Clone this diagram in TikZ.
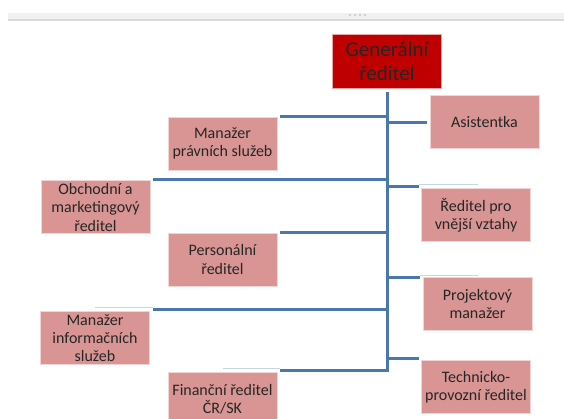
\documentclass[tikz,border=0pt]{standalone}
\usepackage{fontspec}
\setmainfont{Carlito}
\definecolor{boxred}{HTML}{D99594}
\definecolor{topred}{HTML}{C00000}
\definecolor{branchblue}{HTML}{4A78AD}
\definecolor{ghostblue}{HTML}{C6D6EA}
\begin{document}
\begin{tikzpicture}[x=1pt, y=-1pt,
	box/.style = {draw=boxred!40!white, line width=0.8pt, fill=boxred, minimum width=109pt, minimum height=53pt, align=center, inner sep=2pt, font=\fontsize{16}{18.3}\selectfont, text=black!85},
	boss/.style = {draw=topred!35!white, line width=0.8pt, fill=topred, minimum width=109pt, minimum height=54pt, align=center, font=\fontsize{21}{24}\selectfont, text=black!85},
	line/.style = {draw=branchblue, line width=3pt},
	ghost/.style = {draw=ghostblue, line width=1.5pt}]
		\useasboundingbox (0,0) rectangle (564,418);
		% Lista
		\fill[black!6] (8,13) rectangle (564,19);
		\fill[black!15] (8,19) rectangle (564,20.5);
		\foreach \i in {0,...,3}
			\fill[black!30] (350+5*\i,15) circle (0.9pt);
		% Boxy
		\node[boss] (gen) at (387,61) {Generální\\ředitel};
		\node[box] (asist) at (484.5,122) {Asistentka};
		\node[box] (pravni) at (222.5,143.5) {Manažer\\právních služeb};
		\node[box] (obchod) at (95.5,207.3) {Obchodní a\\marketingový\\ředitel};
		\node[box] (vnejsi) at (476,215) {Ředitel pro\\vnější vztahy};
		\node[box] (person) at (222.5,259.5) {Personální\\ředitel};
		\node[box] (projekt) at (477.5,304) {Projektový\\manažer};
		\node[box] (inform) at (95,338) {Manažer\\informačních\\služeb};
		\node[box] (techn) at (476,387) {Technicko-\\provozní ředitel};
		\node[box] (financ) at (222.5,399) {Finanční ředitel\\ČR/SK};
		% Body na kmeni
		\coordinate (bot) at (387,372);
		\coordinate (b1) at (387,116);	% pravni
		\coordinate (b2) at (387,122);	% asist
		\coordinate (b3) at (387,179);	% obchod
		\coordinate (b4) at (387,186);	% vnejsi
		\coordinate (b5) at (387,232);	% person
		\coordinate (b6) at (387,277);	% projekt
		\coordinate (b7) at (387,309);	% inform
		\coordinate (b8) at (387,358);	% techn
		\coordinate (b9) at (387,370);	% financ
		% Slabe cary
		\draw[ghost] (419,184.3) -- (478,184.3);
		\draw[ghost] (420,275.3) -- (478,275.3);
		\draw[ghost] (95,307.7) -- (153,307.7);
		\draw[ghost] (223,368.6) -- (280,368.6);
		% Kmen
		\draw[line, shorten <=4pt] (gen.south) -- (bot);
		% Vetve
		\draw[line, shorten >=3pt] (b1) -- (b1 -| pravni.east);	% pravni
		\draw[line, shorten >=3pt] (b2) -- (b2 -| asist.west);	% asist
		\draw[line, shorten >=3pt] (b3) -- (b3 -| obchod.east);	% obchod
		\draw[line, shorten >=2pt] (b4) -- (b4 -| vnejsi.west);	% vnejsi
		\draw[line, shorten >=3pt] (b5) -- (b5 -| person.east);	% person
		\draw[line, shorten >=3pt] (b6) -- (b6 -| projekt.west);	% projekt
		\draw[line, shorten >=3pt] (b7) -- (b7 -| inform.east);	% inform
		\draw[line, shorten >=2pt] (b8) -- (b8 -| techn.west);	% techn
		\draw[line, shorten >=3pt] (b9) -- (b9 -| financ.east);	% financ
\end{tikzpicture}
\end{document}
